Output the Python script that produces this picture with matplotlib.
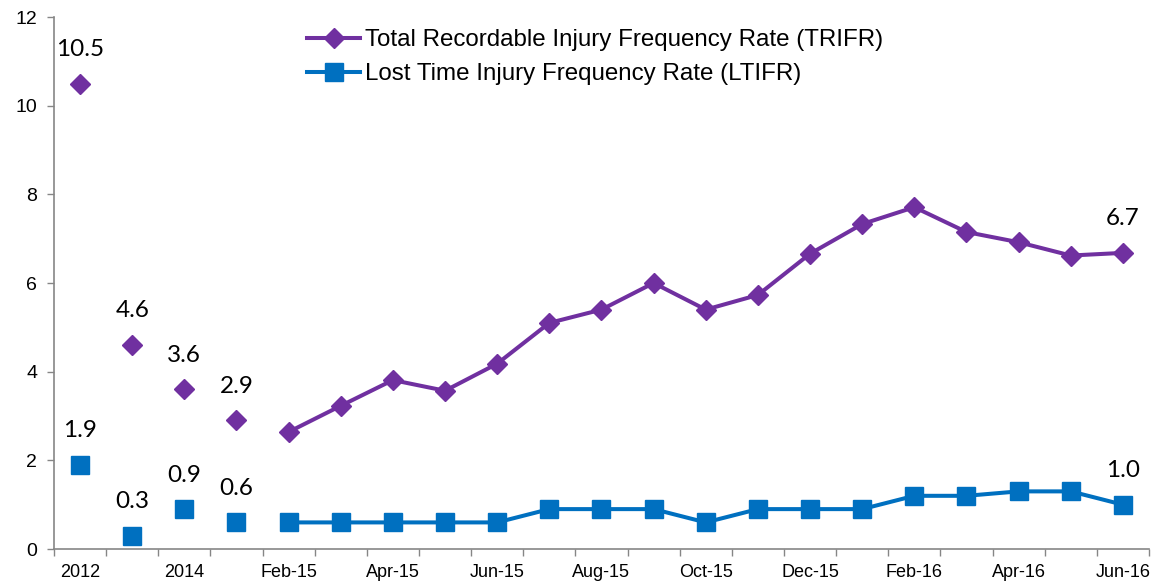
import numpy as np
import matplotlib.pyplot as plt
from matplotlib.ticker import FixedLocator, NullFormatter

cats = ['2012', '2013', '2014', '2015', 'Feb-15', 'Mar-15', 'Apr-15', 'May-15',
        'Jun-15', 'Jul-15', 'Aug-15', 'Sep-15', 'Oct-15', 'Nov-15', 'Dec-15',
        'Jan-16', 'Feb-16', 'Mar-16', 'Apr-16', 'May-16', 'Jun-16']
trifr = [10.5, 4.6, 3.6, 2.9, 2.64, 3.23, 3.81, 3.57, 4.18, 5.1, 5.4, 6.0,
         5.4, 5.73, 6.66, 7.33, 7.71, 7.15, 6.92, 6.62, 6.68]
ltifr = [1.9, 0.3, 0.9, 0.6, 0.6, 0.6, 0.6, 0.6, 0.6, 0.9, 0.9, 0.9,
         0.6, 0.9, 0.9, 0.9, 1.2, 1.2, 1.3, 1.3, 1.0]
n_annual = 4  # first points are yearly values, not joined by the line
labelled = [0, 1, 2, 3, 20]

purple = '#7030A0'
blue = '#0070C0'
grey = '#868686'

fig = plt.figure(figsize=(11.53, 5.83), dpi=100)
ax = fig.add_axes([0.0468, 0.0583, 0.9497, 0.9125])

x = np.arange(len(cats))

# yearly points: markers only
ax.plot(x[:n_annual], trifr[:n_annual], ls='none', marker='D', ms=9.7, color=purple, zorder=3)
ax.plot(x[:n_annual], ltifr[:n_annual], ls='none', marker='s', ms=13, color=blue, zorder=3)
# monthly points joined
ax.plot(x[n_annual:], trifr[n_annual:], '-', marker='D', ms=9.7, lw=2.9, color=purple,
        label='Total Recordable Injury Frequency Rate (TRIFR)', zorder=3)
ax.plot(x[n_annual:], ltifr[n_annual:], '-', marker='s', ms=13, lw=2.9, color=blue,
        label='Lost Time Injury Frequency Rate (LTIFR)', zorder=3)

for i in labelled:
    for vals in (trifr, ltifr):
        ax.annotate(f'{vals[i]:.1f}', (x[i], vals[i]), xytext=(0, 17),
                    textcoords='offset points', ha='center', va='bottom',
                    fontsize=17.5, family='Lato')

ax.set_xlim(-0.5, len(cats) - 0.5)
ax.set_ylim(0, 12)
ax.set_yticks(range(0, 13, 2))

# category boundaries carry the tick marks, labels sit at every other category
ax.xaxis.set_major_locator(FixedLocator(np.arange(-0.5, len(cats), 1)))
ax.xaxis.set_major_formatter(NullFormatter())
ax.set_xticks(x[::2], minor=True)
ax.set_xticklabels(cats[::2], minor=True, family='Liberation Sans', fontsize=13)
ax.tick_params(axis='x', which='minor', length=0, pad=11)
ax.tick_params(axis='x', which='major', length=5, color=grey, width=1)
ax.tick_params(axis='y', length=5, color=grey, width=1, labelsize=14, pad=7)
for lab in ax.get_yticklabels():
    lab.set_family('Liberation Sans')

for s in ('top', 'right'):
    ax.spines[s].set_visible(False)
for s in ('left', 'bottom'):
    ax.spines[s].set_color(grey)
    ax.spines[s].set_linewidth(1.2)

ax.legend(loc='upper left', bbox_to_anchor=(307 / 1153, 1 - 29 / 583),
          bbox_transform=fig.transFigure, frameon=False, borderpad=0,
          borderaxespad=0, handlelength=2.2, handletextpad=0.2, labelspacing=0.5,
          prop={'family': 'Liberation Sans', 'size': 17.4})

fig.savefig('out.png', dpi=100)
